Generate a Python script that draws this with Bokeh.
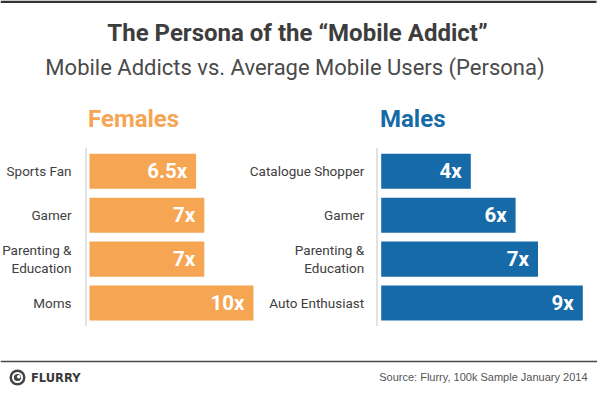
import numpy as np
from bokeh.plotting import figure
from bokeh.models import Range1d, ColumnDataSource
from bokeh.core.properties import value
from bokeh.embed import file_html
from bokeh.resources import INLINE

# ---------------- data ----------------
title_text = "The Persona of the \u201cMobile Addict\u201d"
subtitle_text = "Mobile Addicts vs. Average Mobile Users (Persona)"
female_header = "Females"
male_header = "Males"
female_categories = ["Sports Fan", "Gamer", "Parenting &\nEducation", "Moms"]
female_values = [6.5, 7, 7, 10]
female_labels = ["6.5x", "7x", "7x", "10x"]
male_categories = ["Catalogue Shopper", "Gamer", "Parenting &\nEducation", "Auto Enthusiast"]
male_values = [4, 6, 7, 9]
male_labels = ["4x", "6x", "7x", "9x"]
source_text = "Source: Flurry, 100k Sample January 2014"
brand_text = "FLURRY"

# ---------------- style ----------------
ORANGE = "#f6a553"
BLUE = "#166aa7"
DARK = "#3d3d3d"
HEAD = "Roboto"

W, H = 597, 386
X0, Y0 = 0, 0  # layout coords are picture pixels

p = figure(width=W, height=H, x_range=Range1d(X0, X0 + W), y_range=Range1d(Y0 + H, Y0),
           output_backend="svg", toolbar_location=None, min_border=0,
           x_axis_type=None, y_axis_type=None)
p.outline_line_color = None
p.background_fill_color = "white"
p.border_fill_color = "white"

# scales for the two panels
F_ORIGIN, F_PPU = 89.0, 16.4
M_ORIGIN, M_PPU = 380.7, 22.4
ROW0, ROW_PITCH = 170.8, 43.9
p.extra_x_ranges = {
    "fx": Range1d((X0 - F_ORIGIN) / F_PPU, (X0 + W - F_ORIGIN) / F_PPU),
    "mx": Range1d((X0 - M_ORIGIN) / M_PPU, (X0 + W - M_ORIGIN) / M_PPU),
}
p.extra_y_ranges = {"ry": Range1d((Y0 + H - ROW0) / ROW_PITCH, (Y0 - ROW0) / ROW_PITCH)}

def panel(cats, vals, labels, color, xr, label_off):
    src = ColumnDataSource(dict(row=list(range(len(cats))), cat=cats, val=vals, lbl=labels))
    p.hbar(y="row", left=0, right="val", height=0.8, source=src, fill_color=color,
           line_color=None, x_range_name=xr, y_range_name="ry")
    p.text(x="val", y="row", text="lbl", source=src, x_offset=-9, text_align="right",
           text_baseline="middle", text_font=value(HEAD), text_font_style="bold",
           text_font_size="20.5px", text_color="white", x_range_name=xr, y_range_name="ry")
    p.text(x=0, y="row", text="cat", source=src, x_offset=label_off, text_align="right",
           text_baseline="middle", text_font=value(HEAD), text_font_size="13.5px",
           text_color="#404040", text_line_height=1.15, x_range_name=xr, y_range_name="ry")

panel(female_categories, female_values, female_labels, ORANGE, "fx", -18)
panel(male_categories, male_values, male_labels, BLUE, "mx", -17)

# dotted base lines
p.segment(x0=[85.5, 376.5], y0=[148, 148], x1=[85.5, 376.5], y1=[326, 326],
          line_color="#8a8a8a", line_dash="1 1", line_width=1)

# top rule
p.segment(x0=[0], y0=[1.2], x1=[596], y1=[1.2], line_color="#333333", line_width=2.5)

def heading(x, y, text, size, color, align="center", bold=True):
    p.text(x=[x], y=[y], text=[text], text_align=align, text_baseline="middle",
           text_font=value(HEAD), text_font_style="bold" if bold else "normal",
           text_font_size=size, text_color=color)

heading(297, 32, title_text, "24px", DARK)
heading(294.5, 66.5, subtitle_text, "22px", "#4a4a4a", bold=False)
heading(87.5, 118, female_header, "24px", ORANGE, align="left")
heading(379.5, 118, male_header, "24px", BLUE, align="left")

# footer
p.segment(x0=[0], y0=[361], x1=[597], y1=[361], line_color="#4a4a4a", line_width=1.5)
p.annulus(x=[17], y=[377], inner_radius=5.5, outer_radius=8, fill_color="#444444", line_color=None)
p.circle(x=[17], y=[377], radius=3.6, fill_color="#444444", line_color=None)
p.circle(x=[18.2], y=[376.2], radius=1.8, fill_color="white", line_color=None)
p.text(x=[30.5], y=[377.5], text=[brand_text], text_align="left", text_baseline="middle",
       text_font=value("DejaVu Sans"), text_font_style="bold",
       text_font_size="11.5px", text_color="#3a3a3a")
p.text(x=[587], y=[376.5], text=[source_text], text_align="right", text_baseline="middle",
       text_font=value("Liberation Sans"), text_font_size="11px", text_color="#555555")

open("out.html", "w").write(file_html(p, INLINE))
